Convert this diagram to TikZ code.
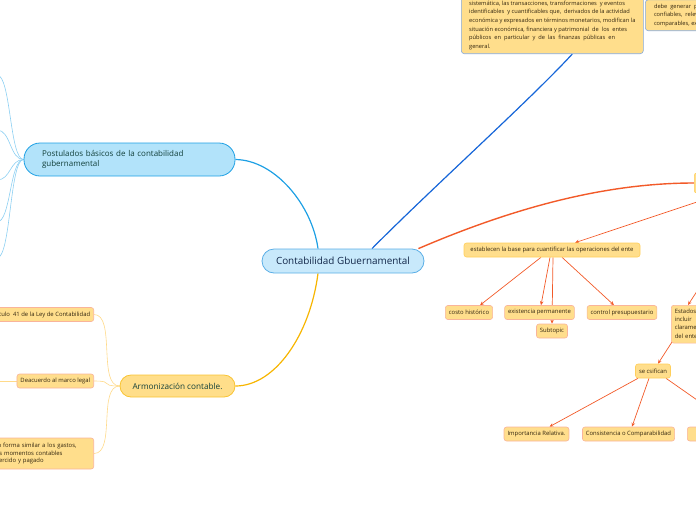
\documentclass[tikz,border=0pt]{standalone}
\usepackage{fontspec}
\setmainfont{Open Sans}
\usetikzlibrary{arrows.meta, positioning, backgrounds}

\definecolor{gobfill}{HTML}{C8E9FB}
\definecolor{gobline}{HTML}{5AAEE6}
\definecolor{postfill}{HTML}{B2E3FA}
\definecolor{postline}{HTML}{1EA0E4}
\definecolor{postthin}{HTML}{8CCFF2}
\definecolor{armfill}{HTML}{FFDE8A}
\definecolor{armline}{HTML}{F7B500}
\definecolor{armthin}{HTML}{FFDA8A}
\definecolor{leaffill}{HTML}{FFDE8C}
\definecolor{leafline}{HTML}{F9B49A}
\definecolor{temaline}{HTML}{FFCF5A}
\definecolor{notaline}{HTML}{86A9DA}
\definecolor{orline}{HTML}{F25A29}
\definecolor{azul}{HTML}{1565D8}
\definecolor{textgob}{HTML}{13284A}
\definecolor{textverde}{HTML}{12403A}
\definecolor{textleaf}{HTML}{33260F}

\tikzset{
  gobnode/.style={rectangle, rounded corners=12pt, fill=gobfill, draw=gobline, line width=0.8pt,
    text=textgob, font=\fontsize{9.9}{12}\selectfont, minimum width=162pt, minimum height=24pt},
  postnode/.style={rectangle, rounded corners=16pt, fill=postfill, draw=postline, line width=0.8pt,
    text=textverde, font=\fontsize{8}{10.5}\selectfont, text width=175pt, inner xsep=18pt,
    align=left, minimum height=33pt},
  armnode/.style={rectangle, rounded corners=11pt, fill=armfill, draw=armline!80, line width=0.8pt,
    text=textverde, font=\fontsize{8.2}{10}\selectfont, minimum width=115pt, minimum height=22pt},
  leaf/.style={rectangle, rounded corners=2.5pt, fill=leaffill, draw=leafline, line width=0.6pt,
    text=textleaf, font=\fontsize{5.9}{7.5}\selectfont, inner xsep=3.5pt, minimum height=14pt},
  tema/.style={leaf, draw=temaline},
  nota/.style={rectangle, rounded corners=3pt, fill=leaffill, draw=notaline, line width=0.6pt,
    text=textleaf, font=\fontsize{5.7}{8.6}\selectfont, align=left, inner sep=4pt},
  rama/.style={orline, line width=0.7pt, -{Stealth[length=4pt, width=3.5pt]}},
}

\begin{document}
\begin{tikzpicture}[x=1pt, y=-1pt]
\useasboundingbox (0,0) rectangle (696,520);

% temas principales
\node[gobnode] (gob) at (343,261) {Contabilidad Gbuernamental};
\node[postnode] (post) at (129.5,159.5) {Postulados básicos de la contabilidad\\gubernamental};
\node[armnode] (arm) at (177.5,386) {Armonización contable.};

% notas de arriba
\node[nota, anchor=south west, minimum width=182pt] (defn) at (461,54) {sistemática, las transacciones, transformaciones \ y eventos\\
identificables \ y cuantificables que, \ derivados de la actividad\\
económica y expresados en términos monetarios, modifican la\\
situación económica, financiera y patrimonial \ de \ los \ entes\\
públicos \ en \ particular \ y \ de \ las \ finanzas \ públicas \ en\\
general.};
\node[nota, anchor=south west, minimum width=118pt] (info) at (645,31) {debe \ generar \ presentar información\\
confiables, \ relevantes, comprensibles\\
comparables, expresada en términos};

% lado derecho
\node[tema, anchor=west, minimum height=20pt, minimum width=60pt] (carac) at (694,183) {Características};
\node[tema, minimum width=176pt] (est) at (552,250) {establecen la base para cuantificar las operaciones del ente};
\node[leaf] (costo) at (469,312.5) {costo histórico};
\node[leaf] (exist) at (539.5,312.5) {existencia permanente};
\node[leaf] (sub) at (552,331) {Subtopic};
\node[leaf] (control) at (622,312.5) {control presupuestario};
\node[leaf, anchor=north west, text width=90pt, align=left, font=\fontsize{5.9}{8.4}\selectfont] (estados) at (671,305) {Estados \ financieros deben\\
incluir \ la información\\ claramente identificada\\ del ente público};
\node[tema] (clasif) at (653,371) {se csifican};
\node[leaf] (impor) at (536.5,434) {Importancia Relativa.};
\node[leaf] (consis) at (628.5,434) {Consistencia o Comparabilidad};
\node[leaf, anchor=west, minimum width=96pt, align=left] (cumpl) at (687,434) {Cumplimiento};

% lado izquierdo
\node[leaf, anchor=east] (ley) at (94,314.5) {Artículo \ 41 de la Ley de Contabilidad};
\node[leaf, anchor=east] (marco) at (94,381) {Deacuerdo al marco legal};
\node[leaf, anchor=east, text width=96pt, align=left, minimum height=31pt] (gastos) at (94,453.5) {en forma similar a los gastos,\\
los momentos contables\\ ejercido y pagado};

\foreach \y [count=\i] in {75,130,180,222,258}
  \coordinate (p\i) at (-3,\y);
\coordinate (m1) at (-3,381);
\coordinate (d1) at (700,201);
\coordinate (d2) at (703,282);

\begin{scope}[on background layer]
  \foreach \i in {1,...,5}
    \draw[postthin, line width=0.6pt] (post.west) .. controls +(-14,0) and +(14,0) .. (p\i);
  \foreach \h in {ley,marco,gastos}
    \draw[armthin, line width=0.6pt] (arm.west) .. controls +(-22,0) and +(22,0) .. (\h.east);
  \draw[armthin, line width=0.6pt] (marco.west) -- (m1);

  \draw[postline, line width=1.2pt] (post.east) .. controls (275,160) and (312,205) .. ([xshift=-25pt]gob.north);
  \draw[armline, line width=1.2pt] ([xshift=-25pt]gob.south) .. controls (310,335) and (275,386) .. (arm.east);
  \draw[azul, line width=1.2pt] ([xshift=29pt]gob.north) .. controls (430,190) and (530,100) .. ([xshift=20pt]defn.south);
  \draw[orline, line width=1.4pt] ([xshift=-6pt]gob.north east) .. controls (520,205) and (610,183) .. (carac.west);

  \draw[rama] (d1) -- ([xshift=23pt]est.north);
  \draw[rama] ([xshift=-11pt]est.south) -- ([xshift=11pt]costo.north);
  \draw[rama] ([xshift=-2pt]est.south) -- ([xshift=1.5pt]exist.north);
  \draw[rama] ([xshift=1pt]est.south) -- (sub.north);
  \draw[rama] ([xshift=10pt]est.south) -- ([xshift=-8pt]control.north);
  \draw[rama] (d2) -- ([xshift=17pt]estados.north west);
  \draw[rama] ([shift={(2pt,3pt)}]estados.south west) -- ([xshift=5pt]clasif.north);
  \draw[rama] ([xshift=-15pt]clasif.south) -- ([xshift=13pt]impor.north);
  \draw[rama] ([xshift=-4pt]clasif.south) -- ([xshift=3.5pt]consis.north);
  \draw[rama] ([xshift=13pt]clasif.south) -- (cumpl.north);
\end{scope}
\end{tikzpicture}
\end{document}
